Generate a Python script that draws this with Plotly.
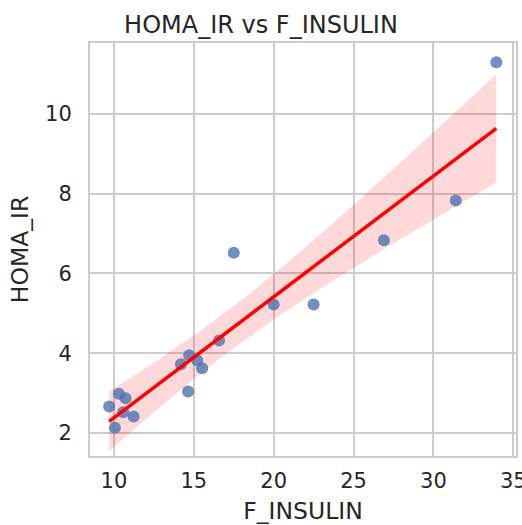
import numpy as np
import plotly.graph_objects as go

# Data
f_insulin = [9.7, 10.06, 10.31, 10.73, 10.58, 11.23, 14.19, 14.71, 14.64, 15.21,
             15.52, 16.58, 17.5, 20.0, 22.5, 26.9, 31.4, 33.94]
homa_ir = [2.66, 2.13, 2.98, 2.87, 2.52, 2.41, 3.72, 3.95, 3.04, 3.82,
           3.62, 4.32, 6.52, 5.22, 5.22, 6.83, 7.83, 11.3]

x_ticks = [10, 15, 20, 25, 30, 35]
y_ticks = [2, 4, 6, 8, 10]

x = np.array(f_insulin)
y = np.array(homa_ir)
n = len(x)
slope, intercept = np.polyfit(x, y, 1)
grid = np.linspace(x.min(), x.max(), 100)
fit = intercept + slope * grid
resid = y - (intercept + slope * x)
s = np.sqrt(np.sum(resid ** 2) / (n - 2))
sxx = np.sum((x - x.mean()) ** 2)
# 95% band; widened to approximate the bootstrap band of the original
band_mult = 2.120 * 1.32
se = s * np.sqrt(1.0 / n + (grid - x.mean()) ** 2 / sxx)
upper = fit + band_mult * se
lower = fit - band_mult * se

TEXT = "#262626"
GRID = "#cccccc"
FONT = "DejaVu Sans"

fig = go.Figure()
fig.add_trace(go.Scatter(
    x=np.concatenate([grid, grid[::-1]]),
    y=np.concatenate([upper, lower[::-1]]),
    fill="toself", fillcolor="rgba(255,0,0,0.15)",
    line=dict(width=0), mode="lines", hoverinfo="skip", showlegend=False))
fig.add_trace(go.Scatter(
    x=x, y=y, mode="markers",
    marker=dict(color="#4C72B0", opacity=0.8, size=12, line=dict(width=0)),
    showlegend=False))
fig.add_trace(go.Scatter(
    x=grid, y=fit, mode="lines",
    line=dict(color="red", width=3.5), showlegend=False))

axis_common = dict(
    showgrid=True, gridcolor=GRID, gridwidth=2,
    showline=True, linecolor=GRID, linewidth=2, mirror=True,
    zeroline=False, ticks="",
    tickfont=dict(family=FONT, size=21, color=TEXT),
    ticklabeloverflow="allow",
    automargin=False,
)

fig.update_layout(
    width=522, height=525,
    margin=dict(l=90, r=6, t=43, b=69),
    paper_bgcolor="white", plot_bgcolor="white",
    title=dict(text="HOMA_IR vs F_INSULIN", x=0.5, xanchor="center",
               y=1 - 25 / 525, yanchor="middle", automargin=False,
               font=dict(family=FONT, size=24, color=TEXT)),
    xaxis=dict(range=[8.5, 35.17], tickvals=x_ticks, ticklabelstandoff=5,
               title=dict(text="F_INSULIN", font=dict(family=FONT, size=23.5, color=TEXT)),
               **axis_common),
    yaxis=dict(range=[1.42, 11.78], tickvals=y_ticks, ticklabelstandoff=12,
               title=dict(text="HOMA_IR", font=dict(family=FONT, size=23.5, color=TEXT), standoff=10),
               **axis_common),
)

fig.write_html("out.html")
